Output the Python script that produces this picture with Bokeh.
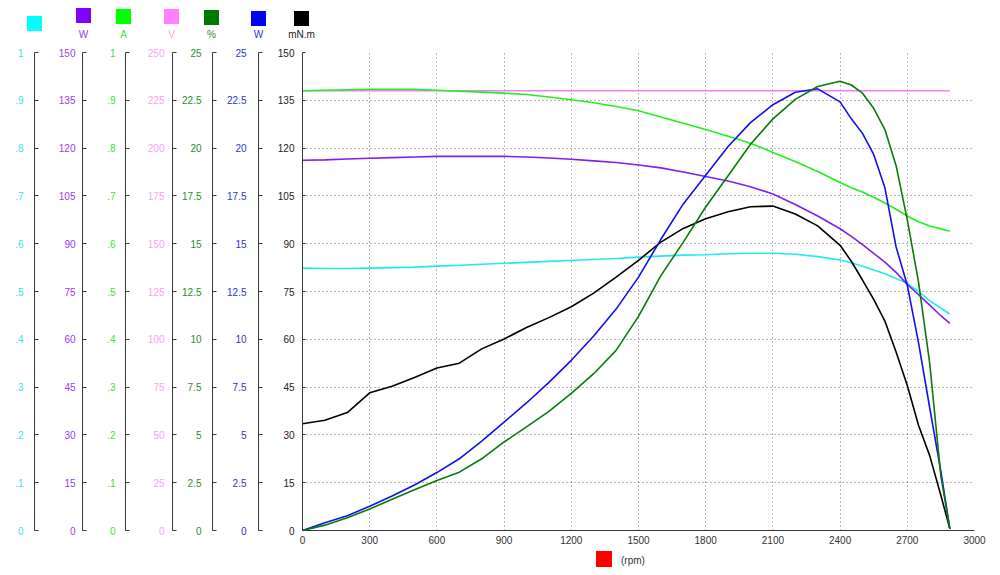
from bokeh.plotting import figure
from bokeh.models import Range1d, LinearAxis, FixedTicker, ColumnDataSource, Div
from bokeh.layouts import column
from bokeh.embed import file_html
from bokeh.resources import INLINE

# ---------------- data ----------------
rpm = [0, 100, 200, 300, 400, 500, 600, 700, 800, 900, 1000, 1100, 1200, 1300, 1400,
       1500, 1600, 1700, 1800, 1900, 2000, 2100, 2200, 2300, 2400, 2450, 2500, 2550,
       2600, 2650, 2700, 2750, 2800, 2850, 2890]

torque_mnm = [33.5, 34.6, 37.0, 43.2, 45.3, 48.0, 51.0, 52.5, 57.0, 60.1, 63.7, 66.8, 70.2,
              74.5, 79.5, 84.8, 90.5, 94.8, 97.8, 100.0, 101.6, 101.8, 99.3, 95.6, 89.5,
              84.5, 78.6, 72.5, 65.7, 56.0, 45.5, 33.0, 23.5, 11.0, 0.5]

output_w = [0.0, 0.40, 0.77, 1.27, 1.80, 2.38, 3.03, 3.75, 4.67, 5.67, 6.67, 7.75, 8.90,
            10.17, 11.58, 13.25, 15.23, 17.08, 18.58, 20.08, 21.33, 22.27, 22.92, 23.10,
            22.42, 21.53, 20.77, 19.67, 17.92, 14.83, 12.83, 9.83, 6.42, 3.08, 0.08]

efficiency_pct = [0.0, 0.28, 0.67, 1.12, 1.63, 2.13, 2.62, 3.05, 3.75, 4.63, 5.42, 6.23, 7.17,
                  8.20, 9.42, 11.20, 13.33, 15.08, 16.92, 18.55, 20.20, 21.53, 22.55, 23.22,
                  23.50, 23.30, 22.87, 22.08, 20.97, 19.08, 16.25, 13.00, 8.75, 2.83, 0.08]

current_a = [0.920, 0.921, 0.922, 0.923, 0.923, 0.923, 0.921, 0.919, 0.917, 0.915, 0.912,
             0.907, 0.901, 0.895, 0.887, 0.878, 0.865, 0.852, 0.839, 0.825, 0.810, 0.791,
             0.772, 0.751, 0.728, 0.717, 0.708, 0.697, 0.685, 0.672, 0.658, 0.646, 0.637,
             0.631, 0.626]

input_w = [116.2, 116.3, 116.6, 116.8, 117.0, 117.2, 117.4, 117.4, 117.4, 117.4, 117.2, 116.9,
           116.5, 116.0, 115.5, 114.7, 113.8, 112.5, 111.1, 109.7, 107.9, 105.6, 102.3, 98.7,
           94.7, 92.3, 89.7, 87.0, 84.2, 81.0, 77.2, 74.0, 70.7, 67.4, 65.0]

voltage_v = [230.0, 230.0, 230.0, 230.0, 230.0, 230.0, 230.0, 230.0, 230.0, 230.0, 230.0,
             230.0, 230.0, 230.0, 230.0, 230.0, 230.0, 230.0, 230.0, 230.0, 230.0, 230.0,
             230.0, 230.0, 230.0, 230.0, 230.0, 230.0, 230.0, 230.0, 230.0, 230.0, 230.0,
             230.0, 230.0]

power_factor = [0.549, 0.548, 0.548, 0.549, 0.550, 0.551, 0.553, 0.555, 0.557, 0.559, 0.561,
                0.563, 0.565, 0.567, 0.569, 0.572, 0.574, 0.576, 0.577, 0.579, 0.580, 0.580,
                0.578, 0.573, 0.566, 0.560, 0.553, 0.545, 0.537, 0.527, 0.517, 0.500, 0.481,
                0.465, 0.453]

# tick values / labels
frac_ticks = [0, 0.1, 0.2, 0.3, 0.4, 0.5, 0.6, 0.7, 0.8, 0.9, 1]
frac_labels = ["0", ".1", ".2", ".3", ".4", ".5", ".6", ".7", ".8", ".9", "1"]
w150_ticks = [0, 15, 30, 45, 60, 75, 90, 105, 120, 135, 150]
w150_labels = ["0", "15", "30", "45", "60", "75", "90", "105", "120", "135", "150"]
volt_ticks = [0, 25, 50, 75, 100, 125, 150, 175, 200, 225, 250]
volt_labels = ["0", "25", "50", "75", "100", "125", "150", "175", "200", "225", "250"]
q25_ticks = [0, 2.5, 5, 7.5, 10, 12.5, 15, 17.5, 20, 22.5, 25]
q25_labels = ["0", "2.5", "5", "7.5", "10", "12.5", "15", "17.5", "20", "22.5", "25"]
rpm_ticks = [0, 300, 600, 900, 1200, 1500, 1800, 2100, 2400, 2700, 3000]
rpm_labels = ["0", "300", "600", "900", "1200", "1500", "1800", "2100", "2400", "2700", "3000"]

legend_units = ["", "W", "A", "V", "%", "W", "mN.m"]
x_unit = "(rpm)"

# ---------------- style ----------------
FONT = "Liberation Sans"
C_CYAN, C_PURPLE, C_GREEN, C_PINK = "#1EEAF0", "#7F1FF0", "#22EE22", "#EE82EE"
C_DKGREEN, C_BLUE, C_BLACK = "#0B7A0B", "#1010F0", "#000000"
square_colors = ["#00FFFF", "#8000F8", "#00FF00", "#FF80FF", "#007A00", "#0000FF", "#000000"]
label_colors = ["#40E0E8", "#9940F5", "#44DD44", "#F0A8F0", "#2E8B2E", "#3030D8", "#222222"]
AXIS_C = "#3A3A3A"

W, H = 1000, 575
TOP_H, BOT_H = 42, 27           # legend strips above / below the plot
FRAME_L, FRAME_R, FRAME_T, FRAME_B = 302, 974, 52, 530   # frame edges in page pixels
DIV_STYLE = ("position:relative;width:%dpx;height:%dpx;font-family:'%s',Arial,sans-serif;"
             "font-size:10px;background:white;overflow:hidden;")

# ---------------- legend strip (top) ----------------
leg_x = [34.5, 83.5, 123.5, 171.5, 211.5, 258.5, 301.5]   # swatch centres (px)
leg_y = [23.5, 15.5, 16.5, 16.5, 17.5, 18.5, 18.5]
SW = 15
parts = []
for cx, cy, col, unit, tcol in zip(leg_x, leg_y, square_colors, legend_units, label_colors):
    parts.append('<div style="position:absolute;left:%.1fpx;top:%.1fpx;width:%dpx;height:%dpx;'
                 'background:%s;"></div>' % (cx - SW / 2, cy - SW / 2, SW, SW, col))
    if unit:
        parts.append('<div style="position:absolute;left:%.1fpx;top:28px;width:40px;height:13px;'
                     'line-height:13px;text-align:center;color:%s;">%s</div>' % (cx - 20, tcol, unit))
top = Div(text='<div style="%s">%s</div>' % (DIV_STYLE % (W, TOP_H, FONT), "".join(parts)),
          width=W, height=TOP_H, margin=0)

# ---------------- x unit strip (bottom) ----------------
bot_html = ('<div style="position:absolute;left:596px;top:3px;width:16px;height:16px;background:#FF0000;"></div>'
            '<div style="position:absolute;left:621px;top:6px;height:13px;line-height:13px;color:#333333;">%s</div>'
            % x_unit)
bot = Div(text='<div style="%s">%s</div>' % (DIV_STYLE % (W, BOT_H, FONT), bot_html),
          width=W, height=BOT_H, margin=0)

# ---------------- main figure ----------------
src = ColumnDataSource(dict(rpm=rpm, torque=torque_mnm, out_w=output_w, eff=efficiency_pct,
                            amp=current_a, in_w=input_w, volt=voltage_v, pf=power_factor))

PH = H - TOP_H - BOT_H
p = figure(width=W, height=PH, x_range=Range1d(0, 3000), y_range=Range1d(0, 150),
           toolbar_location=None, output_backend="svg", title_location=None,
           min_border_left=FRAME_L, min_border_right=W - FRAME_R,
           min_border_top=FRAME_T - TOP_H, min_border_bottom=H - BOT_H - FRAME_B)
p.outline_line_color = None
p.background_fill_color = "white"

p.extra_y_ranges = {
    "pf": Range1d(0, 1), "in_w": Range1d(0, 150), "amp": Range1d(0, 1),
    "volt": Range1d(0, 250), "eff": Range1d(0, 25), "out_w": Range1d(0, 25),
}


def style_axis(ax, ticks, labels, color, standoff, pad, tick_in=4):
    ax.ticker = FixedTicker(ticks=ticks)
    ax.major_label_overrides = dict(zip(ticks, labels))
    ax.major_label_text_color = color
    ax.major_label_text_font = FONT
    ax.major_label_text_font_size = "10px"
    ax.major_label_standoff = standoff
    ax.major_tick_in = tick_in
    ax.major_tick_out = 0
    ax.minor_tick_in = 0
    ax.minor_tick_out = 0
    ax.axis_line_color = AXIS_C
    ax.major_tick_line_color = AXIS_C
    if pad is not None:
        ax.axis_label = " "
        ax.axis_label_text_font_size = "1px"
        ax.axis_label_standoff = pad


# main (torque) y axis
style_axis(p.yaxis[0], w150_ticks, w150_labels, "#222222", 8, 12, tick_in=3)
# stacked extra axes, from the frame outward
for rng, ticks, labels, col, so, pad in [
    ("out_w", q25_ticks, q25_labels, label_colors[5], 12, 7),
    ("eff", q25_ticks, q25_labels, label_colors[4], 11, 2),
    ("volt", volt_ticks, volt_labels, label_colors[3], 8, 15),
    ("amp", frac_ticks, frac_labels, label_colors[2], 10, 18),
    ("in_w", w150_ticks, w150_labels, label_colors[1], 7, 17),
    ("pf", frac_ticks, frac_labels, label_colors[0], 11, None),
]:
    ax = LinearAxis(y_range_name=rng)
    style_axis(ax, ticks, labels, col, so, pad)
    p.add_layout(ax, "left")

# x axis
style_axis(p.xaxis[0], rpm_ticks, rpm_labels, "#333333", 5, None, tick_in=0)

for g in (p.xgrid[0], p.ygrid[0]):
    g.grid_line_color = "#6E6E6E"
    g.grid_line_dash = "1 3"
    g.grid_line_width = 1
p.xgrid[0].ticker = FixedTicker(ticks=rpm_ticks)
p.ygrid[0].ticker = FixedTicker(ticks=w150_ticks)

LW = 1.6
p.line("rpm", "volt", source=src, y_range_name="volt", color=C_PINK, line_width=LW)
p.line("rpm", "pf", source=src, y_range_name="pf", color=C_CYAN, line_width=LW)
p.line("rpm", "in_w", source=src, y_range_name="in_w", color=C_PURPLE, line_width=LW)
p.line("rpm", "amp", source=src, y_range_name="amp", color=C_GREEN, line_width=LW)
p.line("rpm", "torque", source=src, color=C_BLACK, line_width=LW)
p.line("rpm", "out_w", source=src, y_range_name="out_w", color=C_BLUE, line_width=LW)
p.line("rpm", "eff", source=src, y_range_name="eff", color=C_DKGREEN, line_width=LW)

layout = column(top, p, bot, spacing=0)
open("out.html", "w").write(file_html(layout, INLINE))
